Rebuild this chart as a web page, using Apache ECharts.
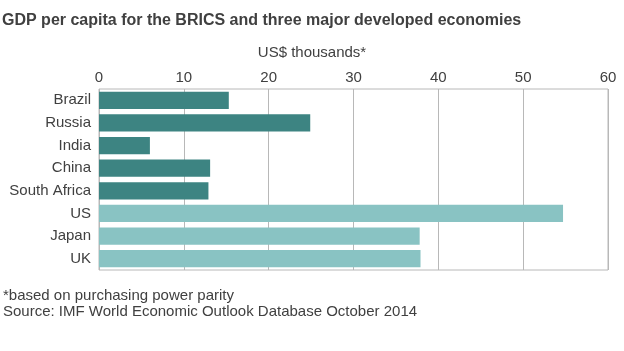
<!DOCTYPE html>
<html>
<head>
<meta charset="utf-8">
<script src="https://cdn.jsdelivr.net/npm/echarts@6/dist/echarts.min.js"></script>
<style>html,body{margin:0;padding:0;background:#fff}#c{width:624px;height:351px}</style>
</head>
<body>
<div id="c"></div>
<script>
var categories = ['Brazil', 'Russia', 'India', 'China', 'South Africa', 'US', 'Japan', 'UK'];
var values = [15.3, 24.9, 6.0, 13.1, 12.9, 54.7, 37.8, 37.9];
var groups = ['BRICS', 'BRICS', 'BRICS', 'BRICS', 'BRICS', 'Developed', 'Developed', 'Developed'];
var xTicks = [0, 10, 20, 30, 40, 50, 60];

var FONT = 'Liberation Sans, Arial, sans-serif';
var groupColor = { BRICS: '#3d8482', Developed: '#89c3c3' };
var chart = echarts.init(document.getElementById('c'), null, { renderer: 'canvas' });
chart.setOption({
  animation: false,
  backgroundColor: '#fff',
  textStyle: { fontFamily: FONT },
  title: {
    text: 'GDP per capita for the BRICS and three major developed economies',
    left: -3, top: 8,
    textStyle: { fontSize: 16, fontWeight: 'bold', color: '#404040', fontFamily: FONT }
  },
  grid: { left: 99, right: 16, top: 89, bottom: 81, show: true, borderColor: '#b8b8b8', borderWidth: 1 },
  xAxis: {
    type: 'value', position: 'top', min: xTicks[0], max: xTicks[xTicks.length - 1], interval: 10,
    axisLine: { show: false }, axisTick: { show: false },
    axisLabel: { fontSize: 15, color: '#404040', margin: 4 },
    splitLine: { show: true, lineStyle: { color: '#b8b8b8', width: 1 } }
  },
  yAxis: {
    type: 'category', data: categories, inverse: true,
    axisLine: { show: false }, axisTick: { show: false },
    axisLabel: { fontSize: 15, color: '#404040', margin: 8 }
  },
  series: [{
    type: 'bar', barWidth: '76%',
    data: values.map(function (v, i) { return { value: v, itemStyle: { color: groupColor[groups[i]] } }; })
  }],
  graphic: [
    { type: 'text', x: 312, y: 53, style: { text: 'US$ thousands*', font: '15px ' + FONT, fill: '#404040', align: 'center', verticalAlign: 'middle' } },
    { type: 'text', left: 3, top: 288.5, style: { text: '*based on purchasing power parity', font: '15px ' + FONT, fill: '#404040' } },
    { type: 'text', left: 3, top: 304, style: { text: 'Source: IMF World Economic Outlook Database October 2014', font: '15px ' + FONT, fill: '#404040' } }
  ]
});
</script>
</body>
</html>
